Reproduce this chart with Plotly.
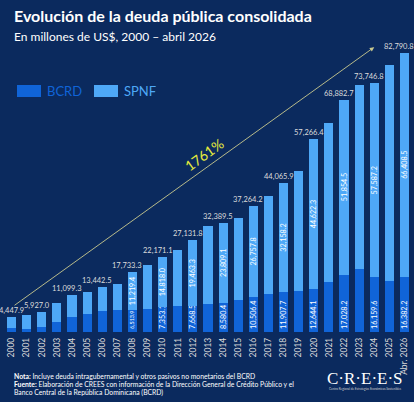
import plotly.graph_objects as go

# categorias (eje x)
years = ["2000", "2001", "2002", "2003", "2004", "2005", "2006", "2007", "2008",
         "2009", "2010", "2011", "2012", "2013", "2014", "2015", "2016", "2017",
         "2018", "2019", "2020", "2021", "2022", "2023", "2024", "2025", "Abr. 2026"]

# millones de US$
bcrd = [1200, 900, 1400, 3000, 4450, 5250, 6150, 6650, 6513.9,
        6950, 7353.1, 7700, 7668.5, 8400, 8580.4, 9600, 10506.4, 11200,
        11907.7, 12150, 12644.1, 14750, 17028.2, 18800, 16159.6, 15050, 16382.2]

spnf = [3247.9, 4200, 4527.0, 5500, 6649.3, 6650, 7292.5, 7450, 11219.4,
        13050, 14818.0, 16500, 19463.3, 22900, 23809.1, 24100, 26757.8, 29200,
        32158.2, 35650, 44622.3, 47150, 51854.5, 54400, 57587.2, 63950, 66408.5]

totals = [4447.9, 5100, 5927.0, 8500, 11099.3, 11900, 13442.5, 14100, 17733.3,
          20000, 22171.1, 24200, 27131.8, 31300, 32389.5, 33700, 37264.2, 40400,
          44065.9, 47800, 57266.4, 61900, 68882.7, 73200, 73746.8, 79000, 82790.8]

growth_label = "1761%"

BG = "#0b2a5e"
C_BCRD = "#1064d8"
C_SPNF = "#4ea8f7"
FONT = "Lato"

W, H = 414, 402
L, R, T, B = 4, 2, 35, 70
YMAX = 88000

xpos = list(range(len(years)))


# helpers para pasar de pixeles a coordenadas paper
def px_x(p):
    return (p - L) / (W - L - R)


def px_y(p):
    return (H - B - p) / (H - T - B)


def fmt(v):
    return f"{v:,.1f}"


bcrd_text = [fmt(v) if (i % 2 == 0 and i >= 8) else "" for i, v in enumerate(bcrd)]
spnf_text = [fmt(v) if (i % 2 == 0 and i >= 8) else "" for i, v in enumerate(spnf)]
# el segmento de 2008 es corto, su etiqueta va mas chica
bcrd_sizes = [5.5 if i == 8 else 7.2 for i in xpos]

fig = go.Figure()
fig.add_trace(go.Bar(
    x=xpos, y=bcrd, name="BCRD", marker=dict(color=C_BCRD, line=dict(width=0)),
    text=bcrd_text, textposition="inside", insidetextanchor="start", textangle=-90,
    constraintext="none",
    textfont=dict(family=FONT, size=bcrd_sizes, color="white"), hoverinfo="skip"))
fig.add_trace(go.Bar(
    x=xpos, y=spnf, name="SPNF", marker=dict(color=C_SPNF, line=dict(width=0)),
    text=spnf_text, textposition="inside", insidetextanchor="middle", textangle=-90,
    constraintext="none",
    textfont=dict(family=FONT, size=7.2, color="white"), hoverinfo="skip"))

# totales sobre las barras (años pares)
for i, v in enumerate(totals):
    if i % 2 == 0:
        fig.add_annotation(x=xpos[i], y=v, text=fmt(v), showarrow=False,
                           yanchor="bottom", xshift=(0 if i == 0 else -5), yshift=0,
                           font=dict(family=FONT, size=7.5, color="#dcdcdc"))

# flecha de crecimiento
fig.add_annotation(x=24, y=84400, ax=0.1, ay=7600, xref="x", yref="y",
                   axref="x", ayref="y", text="", showarrow=True,
                   arrowhead=2, arrowsize=1, arrowwidth=0.9, arrowcolor="#c9c98f")
fig.add_annotation(x=12.73, y=52700, text=growth_label, showarrow=False,
                   textangle=-36, font=dict(family=FONT, size=14, color="#e6ec3c"))

# titulo y subtitulo
fig.add_annotation(xref="paper", yref="paper", x=px_x(12), y=px_y(16),
                   xanchor="left", yanchor="middle", showarrow=False,
                   text="<b>Evolución de la deuda pública consolidada</b>",
                   font=dict(family=FONT, size=16, color="white"))
fig.add_annotation(xref="paper", yref="paper", x=px_x(12), y=px_y(37),
                   xanchor="left", yanchor="middle", showarrow=False,
                   text="En millones de US$, 2000 – abril 2026",
                   font=dict(family=FONT, size=12, color="white"))

# leyenda manual
for x0, label, col in [(17, "BCRD", C_BCRD), (94, "SPNF", C_SPNF)]:
    fig.add_shape(type="rect", xref="paper", yref="paper",
                  x0=px_x(x0), x1=px_x(x0 + 24), y0=px_y(97), y1=px_y(85),
                  fillcolor=col, line=dict(width=0))
    fig.add_annotation(xref="paper", yref="paper", x=px_x(x0 + 28), y=px_y(91),
                       xanchor="left", yanchor="middle", showarrow=False,
                       text=label, font=dict(family=FONT, size=13, color=col))

# notas al pie
notes = [
    "<b>Nota:</b> Incluye deuda intragubernamental y otros pasivos no monetarios del BCRD",
    "<b>Fuente:</b> Elaboración de CREES con información de la Dirección General de Crédito Público y el",
    "Banco Central de la República Dominicana (BCRD)",
]
for k, line in enumerate(notes):
    fig.add_annotation(xref="paper", yref="paper", x=px_x(12), y=px_y(375.5 + k * 8.3),
                       xanchor="left", yanchor="middle", showarrow=False,
                       text=line, font=dict(family=FONT, size=6.8, color="white"))

# logo CREES
fig.add_annotation(xref="paper", yref="paper", x=px_x(365), y=px_y(378.5),
                   xanchor="center", yanchor="middle", showarrow=False,
                   text="C·R·E·E·S",
                   font=dict(family="Liberation Serif", size=17, color="white"))
fig.add_annotation(xref="paper", yref="paper", x=px_x(365), y=px_y(389),
                   xanchor="center", yanchor="middle", showarrow=False,
                   text="Centro Regional de Estrategias Económicas Sostenibles",
                   font=dict(family=FONT, size=3, color="#d0d0d0"))

fig.update_layout(
    width=W, height=H, margin=dict(l=L, r=R, t=T, b=B),
    barmode="stack", bargap=0.4, showlegend=False,
    paper_bgcolor=BG, plot_bgcolor=BG,
    xaxis=dict(range=[-0.5, len(years) - 0.5], tickmode="array", tickvals=xpos,
               ticktext=years, tickangle=-90, showgrid=False, zeroline=False,
               showline=False, ticks="", ticklabelstandoff=3, automargin=False,
               tickfont=dict(family=FONT, size=8.5, color="#d8d8d8")),
    yaxis=dict(range=[0, YMAX], visible=False, showgrid=False, zeroline=False,
               automargin=False),
)

# quitar el margen por defecto del body para que el grafico ocupe la ventana
fig.write_html("out.html", config={"displayModeBar": False},
               post_script="document.body.style.margin='0';document.body.style.background='" + BG + "';")
